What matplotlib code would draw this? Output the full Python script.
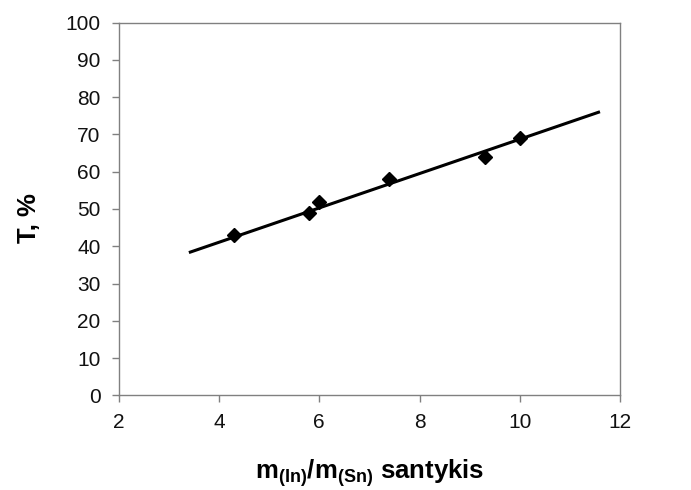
import matplotlib
matplotlib.use("Agg")
import matplotlib.pyplot as plt

# measured points
ratio = [4.3, 5.8, 6.0, 7.4, 9.3, 10.0]
transm = [43, 49, 52, 58, 64, 69]

# trend line end points as drawn in the original
trend_x = [3.4, 11.6]
trend_y = [38.3, 76.1]

x_ticks = [2, 4, 6, 8, 10, 12]
y_ticks = list(range(0, 101, 10))

plt.rcParams['font.family'] = ['Liberation Sans', 'DejaVu Sans']
plt.rcParams['mathtext.fontset'] = 'custom'
plt.rcParams['mathtext.rm'] = 'Liberation Sans'
plt.rcParams['mathtext.bf'] = 'Liberation Sans:bold'

fig = plt.figure(figsize=(6.91, 4.90), dpi=100)
ax = fig.add_axes([0.1718, 0.1933, 0.7255, 0.7604])

ax.plot(trend_x, trend_y, color='black', lw=2.2, solid_capstyle='butt', zorder=2)
ax.plot(ratio, transm, 'D', color='black', ms=7, zorder=3)

ax.set_xlim(2, 12)
ax.set_ylim(0, 100)
ax.set_xticks(x_ticks)
ax.set_yticks(y_ticks)

for s in ax.spines.values():
    s.set_color('#808080')
    s.set_linewidth(1.0)
ax.tick_params(direction='out', length=5, width=1.0, color='#808080',
               labelsize=15, labelcolor='#111111')
ax.tick_params(axis='x', pad=8)
ax.tick_params(axis='y', pad=8)

ax.set_ylabel('T, %', fontsize=18.5, fontweight='bold')
ax.yaxis.set_label_coords(-0.156, 0.476)
ax.set_xlabel(r'm$_{\mathbf{(In)}}$/m$_{\mathbf{(Sn)}}$ santykis',
              fontsize=18.5, fontweight='bold', labelpad=18)

fig.savefig('out.png', dpi=100)
